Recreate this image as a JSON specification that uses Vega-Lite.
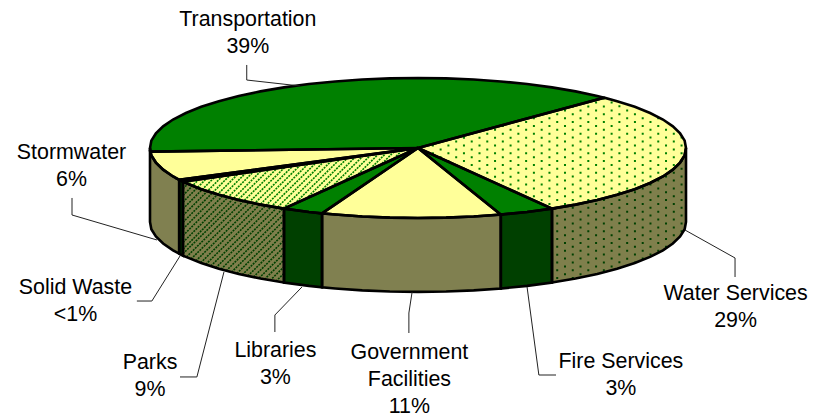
{
"$schema":"https://vega.github.io/schema/vega-lite/v6.json",
"width":822,"height":417,"padding":0,"autosize":"none","background":"white","view":{"stroke":null},
"datasets":{
"faces":[
{"part":"Water Services top","x":0,"y":0},{"part":"Water Services top","x":50,"y":-86.6},{"part":"Water Services top","x":58.8,"y":-80.9},{"part":"Water Services top","x":66.9,"y":-74.3},{"part":"Water Services top","x":74.3,"y":-66.9},{"part":"Water Services top","x":80.9,"y":-58.8},{"part":"Water Services top","x":86.6,"y":-50},{"part":"Water Services top","x":91.4,"y":-40.7},{"part":"Water Services top","x":95.1,"y":-30.9},{"part":"Water Services top","x":97.8,"y":-20.8},{"part":"Water Services top","x":99.5,"y":-10.5},{"part":"Water Services top","x":100,"y":0},{"part":"Water Services top","x":99.5,"y":10.5},{"part":"Water Services top","x":97.8,"y":20.8},{"part":"Water Services top","x":95.1,"y":30.9},{"part":"Water Services top","x":91.4,"y":40.7},{"part":"Water Services top","x":86.6,"y":50},{"part":"Water Services top","x":80.9,"y":58.8},{"part":"Water Services top","x":74.3,"y":66.9},{"part":"Water Services top","x":69.5,"y":71.9},{"part":"Water Services top","x":0,"y":0},
{"part":"Water Services side","x":50,"y":-86.6},{"part":"Water Services side","x":58.8,"y":-80.9},{"part":"Water Services side","x":66.9,"y":-74.3},{"part":"Water Services side","x":74.3,"y":-66.9},{"part":"Water Services side","x":80.9,"y":-58.8},{"part":"Water Services side","x":86.6,"y":-50},{"part":"Water Services side","x":91.4,"y":-40.7},{"part":"Water Services side","x":95.1,"y":-30.9},{"part":"Water Services side","x":97.8,"y":-20.8},{"part":"Water Services side","x":99.5,"y":-10.5},{"part":"Water Services side","x":100,"y":0},{"part":"Water Services side","x":100,"y":-105.6},{"part":"Water Services side","x":99.5,"y":-116.1},{"part":"Water Services side","x":97.8,"y":-126.4},{"part":"Water Services side","x":95.1,"y":-136.5},{"part":"Water Services side","x":91.4,"y":-146.3},{"part":"Water Services side","x":86.6,"y":-155.6},{"part":"Water Services side","x":80.9,"y":-164.4},{"part":"Water Services side","x":74.3,"y":-172.5},{"part":"Water Services side","x":66.9,"y":-179.9},{"part":"Water Services side","x":58.8,"y":-186.5},{"part":"Water Services side","x":50,"y":-192.2},{"part":"Water Services side","x":50,"y":-86.6},
{"part":"Parks top","x":0,"y":0},{"part":"Parks top","x":-87.7,"y":-48.1},{"part":"Parks top","x":-86.6,"y":-50},{"part":"Parks top","x":-80.9,"y":-58.8},{"part":"Parks top","x":-74.3,"y":-66.9},{"part":"Parks top","x":-66.9,"y":-74.3},{"part":"Parks top","x":-58.8,"y":-80.9},{"part":"Parks top","x":-50,"y":-86.6},{"part":"Parks top","x":0,"y":0},
{"part":"Parks side","x":-87.7,"y":-48.1},{"part":"Parks side","x":-86.6,"y":-50},{"part":"Parks side","x":-80.9,"y":-58.8},{"part":"Parks side","x":-74.3,"y":-66.9},{"part":"Parks side","x":-66.9,"y":-74.3},{"part":"Parks side","x":-58.8,"y":-80.9},{"part":"Parks side","x":-50,"y":-86.6},{"part":"Parks side","x":-50,"y":-192.2},{"part":"Parks side","x":-58.8,"y":-186.5},{"part":"Parks side","x":-66.9,"y":-179.9},{"part":"Parks side","x":-74.3,"y":-172.5},{"part":"Parks side","x":-80.9,"y":-164.4},{"part":"Parks side","x":-86.6,"y":-155.6},{"part":"Parks side","x":-87.7,"y":-153.7},{"part":"Parks side","x":-87.7,"y":-48.1},
{"part":"Transportation top","x":0,"y":0},{"part":"Transportation top","x":69.5,"y":71.9},{"part":"Transportation top","x":66.9,"y":74.3},{"part":"Transportation top","x":58.8,"y":80.9},{"part":"Transportation top","x":50,"y":86.6},{"part":"Transportation top","x":40.7,"y":91.4},{"part":"Transportation top","x":30.9,"y":95.1},{"part":"Transportation top","x":20.8,"y":97.8},{"part":"Transportation top","x":10.5,"y":99.5},{"part":"Transportation top","x":0,"y":100},{"part":"Transportation top","x":-10.5,"y":99.5},{"part":"Transportation top","x":-20.8,"y":97.8},{"part":"Transportation top","x":-30.9,"y":95.1},{"part":"Transportation top","x":-40.7,"y":91.4},{"part":"Transportation top","x":-50,"y":86.6},{"part":"Transportation top","x":-58.8,"y":80.9},{"part":"Transportation top","x":-66.9,"y":74.3},{"part":"Transportation top","x":-74.3,"y":66.9},{"part":"Transportation top","x":-80.9,"y":58.8},{"part":"Transportation top","x":-86.6,"y":50},{"part":"Transportation top","x":-91.4,"y":40.7},{"part":"Transportation top","x":-95.1,"y":30.9},{"part":"Transportation top","x":-97.8,"y":20.8},{"part":"Transportation top","x":-99.5,"y":10.5},{"part":"Transportation top","x":-100,"y":0},{"part":"Transportation top","x":-99.9,"y":-5.2},{"part":"Transportation top","x":0,"y":0},
{"part":"Fire Services top","x":0,"y":0},{"part":"Fire Services top","x":30.9,"y":-95.1},{"part":"Fire Services top","x":40.7,"y":-91.4},{"part":"Fire Services top","x":50,"y":-86.6},{"part":"Fire Services top","x":0,"y":0},
{"part":"Fire Services side","x":30.9,"y":-95.1},{"part":"Fire Services side","x":40.7,"y":-91.4},{"part":"Fire Services side","x":50,"y":-86.6},{"part":"Fire Services side","x":50,"y":-192.2},{"part":"Fire Services side","x":40.7,"y":-197},{"part":"Fire Services side","x":30.9,"y":-200.7},{"part":"Fire Services side","x":30.9,"y":-95.1},
{"part":"Government Facilities top","x":0,"y":0},{"part":"Government Facilities top","x":-35.8,"y":-93.4},{"part":"Government Facilities top","x":-30.9,"y":-95.1},{"part":"Government Facilities top","x":-20.8,"y":-97.8},{"part":"Government Facilities top","x":-10.5,"y":-99.5},{"part":"Government Facilities top","x":0,"y":-100},{"part":"Government Facilities top","x":10.5,"y":-99.5},{"part":"Government Facilities top","x":20.8,"y":-97.8},{"part":"Government Facilities top","x":30.9,"y":-95.1},{"part":"Government Facilities top","x":0,"y":0},
{"part":"Government Facilities side","x":-35.8,"y":-93.4},{"part":"Government Facilities side","x":-30.9,"y":-95.1},{"part":"Government Facilities side","x":-20.8,"y":-97.8},{"part":"Government Facilities side","x":-10.5,"y":-99.5},{"part":"Government Facilities side","x":0,"y":-100},{"part":"Government Facilities side","x":10.5,"y":-99.5},{"part":"Government Facilities side","x":20.8,"y":-97.8},{"part":"Government Facilities side","x":30.9,"y":-95.1},{"part":"Government Facilities side","x":30.9,"y":-200.7},{"part":"Government Facilities side","x":20.8,"y":-203.4},{"part":"Government Facilities side","x":10.5,"y":-205.1},{"part":"Government Facilities side","x":0,"y":-205.6},{"part":"Government Facilities side","x":-10.5,"y":-205.1},{"part":"Government Facilities side","x":-20.8,"y":-203.4},{"part":"Government Facilities side","x":-30.9,"y":-200.7},{"part":"Government Facilities side","x":-35.8,"y":-199},{"part":"Government Facilities side","x":-35.8,"y":-93.4},
{"part":"Libraries top","x":0,"y":0},{"part":"Libraries top","x":-50,"y":-86.6},{"part":"Libraries top","x":-40.7,"y":-91.4},{"part":"Libraries top","x":-35.8,"y":-93.4},{"part":"Libraries top","x":0,"y":0},
{"part":"Libraries side","x":-50,"y":-86.6},{"part":"Libraries side","x":-40.7,"y":-91.4},{"part":"Libraries side","x":-35.8,"y":-93.4},{"part":"Libraries side","x":-35.8,"y":-199},{"part":"Libraries side","x":-40.7,"y":-197},{"part":"Libraries side","x":-50,"y":-192.2},{"part":"Libraries side","x":-50,"y":-86.6},
{"part":"Solid Waste top","x":0,"y":0},{"part":"Solid Waste top","x":-89.1,"y":-45.4},{"part":"Solid Waste top","x":-87.7,"y":-48.1},{"part":"Solid Waste top","x":0,"y":0},
{"part":"Solid Waste side","x":-89.1,"y":-45.4},{"part":"Solid Waste side","x":-87.7,"y":-48.1},{"part":"Solid Waste side","x":-87.7,"y":-153.7},{"part":"Solid Waste side","x":-89.1,"y":-151},{"part":"Solid Waste side","x":-89.1,"y":-45.4},
{"part":"Stormwater top","x":0,"y":0},{"part":"Stormwater top","x":-99.9,"y":-5.2},{"part":"Stormwater top","x":-99.5,"y":-10.5},{"part":"Stormwater top","x":-97.8,"y":-20.8},{"part":"Stormwater top","x":-95.1,"y":-30.9},{"part":"Stormwater top","x":-91.4,"y":-40.7},{"part":"Stormwater top","x":-89.1,"y":-45.4},{"part":"Stormwater top","x":0,"y":0},
{"part":"Stormwater side","x":-100,"y":0},{"part":"Stormwater side","x":-99.5,"y":-10.5},{"part":"Stormwater side","x":-97.8,"y":-20.8},{"part":"Stormwater side","x":-95.1,"y":-30.9},{"part":"Stormwater side","x":-91.4,"y":-40.7},{"part":"Stormwater side","x":-89.1,"y":-45.4},{"part":"Stormwater side","x":-89.1,"y":-151},{"part":"Stormwater side","x":-91.4,"y":-146.3},{"part":"Stormwater side","x":-95.1,"y":-136.5},{"part":"Stormwater side","x":-97.8,"y":-126.4},{"part":"Stormwater side","x":-99.5,"y":-116.1},{"part":"Stormwater side","x":-100,"y":-105.6},{"part":"Stormwater side","x":-100,"y":0}
],
"hatch":[
{"k":-75,"x":-87.7,"y":-48.6},{"k":-75,"x":-86.5,"y":-44.1},{"k":-72.5,"x":-87.7,"y":-58.2},{"k":-72.5,"x":-83.6,"y":-42.7},{"k":-70,"x":-87.7,"y":-67.8},{"k":-70,"x":-80.8,"y":-41.2},{"k":-67.5,"x":-87.7,"y":-77.4},{"k":-67.5,"x":-77.9,"y":-39.7},{"k":-65,"x":-87.7,"y":-86.9},{"k":-65,"x":-75,"y":-38.2},{"k":-62.5,"x":-87.7,"y":-96.5},{"k":-62.5,"x":-72.1,"y":-36.8},{"k":-60,"x":-87.7,"y":-106.1},{"k":-60,"x":-69.2,"y":-35.3},{"k":-57.5,"x":-87.7,"y":-115.7},{"k":-57.5,"x":-66.3,"y":-33.8},{"k":-55,"x":-87.7,"y":-125.2},{"k":-55,"x":-63.4,"y":-32.4},{"k":-52.5,"x":-87.7,"y":-134.8},{"k":-52.5,"x":-60.6,"y":-30.9},{"k":-50,"x":-87.7,"y":-144.4},{"k":-50,"x":-57.7,"y":-29.4},{"k":-47.5,"x":-87.7,"y":-151},{"k":-47.5,"x":-54.8,"y":-27.9},
{"k":-45,"x":-86.4,"y":-155.6},{"k":-45,"x":-51.9,"y":-26.5},{"k":-42.5,"x":-84.7,"y":-158.6},{"k":-42.5,"x":-49,"y":-25},{"k":-40,"x":-82.9,"y":-161.3},{"k":-40,"x":-46.1,"y":-23.5},{"k":-37.5,"x":-81.1,"y":-164},{"k":-37.5,"x":-43.3,"y":-22.1},{"k":-35,"x":-79.2,"y":-166.3},{"k":-35,"x":-40.4,"y":-20.6},{"k":-32.5,"x":-77.3,"y":-168.6},{"k":-32.5,"x":-37.5,"y":-19.1},{"k":-30,"x":-75.5,"y":-171.3},{"k":-30,"x":-34.6,"y":-17.6},{"k":-27.5,"x":-73.5,"y":-173.2},{"k":-27.5,"x":-31.7,"y":-16.2},{"k":-25,"x":-71.6,"y":-175.5},{"k":-25,"x":-28.8,"y":-14.7},{"k":-22.5,"x":-69.6,"y":-177.4},{"k":-22.5,"x":-26,"y":-13.2},{"k":-20,"x":-67.6,"y":-179.3},{"k":-20,"x":-23.1,"y":-11.8},{"k":-17.5,"x":-65.6,"y":-181.2},{"k":-17.5,"x":-20.2,"y":-10.3},{"k":-15,"x":-63.5,"y":-182.8},{"k":-15,"x":-17.3,"y":-8.8},{"k":-12.5,"x":-61.4,"y":-184.3},{"k":-12.5,"x":-14.4,"y":-7.4},{"k":-10,"x":-59.3,"y":-185.8},{"k":-10,"x":-11.5,"y":-5.9},{"k":-7.5,"x":-57.3,"y":-187.7},{"k":-7.5,"x":-8.7,"y":-4.4},{"k":-5,"x":-55.2,"y":-189.3},{"k":-5,"x":-5.8,"y":-2.9},{"k":-2.5,"x":-53,"y":-190.4},{"k":-2.5,"x":-2.9,"y":-1.5}
],
"dots":[
{"k":5.55,"x":5.55,"y":83.1},{"k":5.55,"x":5.55,"y":-150},{"k":8.45,"x":8.45,"y":77.4},{"k":8.45,"x":8.45,"y":-150},{"k":11.35,"x":11.35,"y":83.1},{"k":11.35,"x":11.35,"y":-150},{"k":14.25,"x":14.25,"y":77.4},{"k":14.25,"x":14.25,"y":-150},{"k":17.15,"x":17.15,"y":83.1},{"k":17.15,"x":17.15,"y":-150},{"k":20.05,"x":20.05,"y":77.4},{"k":20.05,"x":20.05,"y":-150},{"k":22.95,"x":22.95,"y":83.1},{"k":22.95,"x":22.95,"y":-150},{"k":25.85,"x":25.85,"y":77.4},{"k":25.85,"x":25.85,"y":-150},{"k":28.75,"x":28.75,"y":83.1},{"k":28.75,"x":28.75,"y":-150},{"k":31.65,"x":31.65,"y":77.4},{"k":31.65,"x":31.65,"y":-150},{"k":34.55,"x":34.55,"y":83.1},{"k":34.55,"x":34.55,"y":-150},{"k":37.45,"x":37.45,"y":77.4},{"k":37.45,"x":37.45,"y":-150},{"k":40.35,"x":40.35,"y":83.1},{"k":40.35,"x":40.35,"y":-150},{"k":43.25,"x":43.25,"y":77.4},{"k":43.25,"x":43.25,"y":-150},{"k":46.15,"x":46.15,"y":83.1},{"k":46.15,"x":46.15,"y":-150},{"k":49.05,"x":49.05,"y":77.4},{"k":49.05,"x":49.05,"y":-150},{"k":51.95,"x":51.95,"y":83.1},{"k":51.95,"x":51.95,"y":-191},
{"k":54.85,"x":54.85,"y":77.4},{"k":54.85,"x":54.85,"y":-189.2},{"k":57.75,"x":57.75,"y":72},{"k":57.75,"x":57.75,"y":-187.2},{"k":60.65,"x":60.65,"y":77.4},{"k":60.65,"x":60.65,"y":-185.1},{"k":63.55,"x":63.55,"y":72},{"k":63.55,"x":63.55,"y":-182.8},{"k":66.45,"x":66.45,"y":66.3},{"k":66.45,"x":66.45,"y":-180.3},{"k":69.35,"x":69.35,"y":72},{"k":69.35,"x":69.35,"y":-177.6},{"k":72.25,"x":72.25,"y":66.3},{"k":72.25,"x":72.25,"y":-174.7},{"k":75.15,"x":75.15,"y":60.9},{"k":75.15,"x":75.15,"y":-171.6},{"k":78.05,"x":78.05,"y":55.1},{"k":78.05,"x":78.05,"y":-168.1},{"k":80.95,"x":80.95,"y":49.7},{"k":80.95,"x":80.95,"y":-164.3},{"k":83.85,"x":83.85,"y":44},{"k":83.85,"x":83.85,"y":-160.1},{"k":86.75,"x":86.75,"y":38.6},{"k":86.75,"x":86.75,"y":-155.3},{"k":89.65,"x":89.65,"y":44},{"k":89.65,"x":89.65,"y":-149.9},{"k":92.55,"x":92.55,"y":27.4},{"k":92.55,"x":92.55,"y":-143.5},{"k":95.45,"x":95.45,"y":21.7},{"k":95.45,"x":95.45,"y":-135.4},{"k":98.35,"x":98.35,"y":16.3},{"k":98.35,"x":98.35,"y":-123.7}
],
"leaders":[
{"slice":"Transportation","x":-63.9,"y":118.6},{"slice":"Transportation","x":-63.9,"y":97.1},{"slice":"Transportation","x":-44,"y":88.6},
{"slice":"Stormwater","x":-129.1,"y":-71.4},{"slice":"Stormwater","x":-129.1,"y":-95.7},{"slice":"Stormwater","x":-97.4,"y":-131.4},
{"slice":"Solid Waste","x":-104.9,"y":-218.6},{"slice":"Solid Waste","x":-99.3,"y":-218.6},{"slice":"Solid Waste","x":-88.8,"y":-154.3},
{"slice":"Parks","x":-88.8,"y":-327.1},{"slice":"Parks","x":-82.5,"y":-327.1},{"slice":"Parks","x":-72.4,"y":-177.1},
{"slice":"Libraries","x":-53.4,"y":-262.9},{"slice":"Libraries","x":-53.4,"y":-238.6},{"slice":"Libraries","x":-43.3,"y":-198.6},
{"slice":"Government Facilities","x":-3.4,"y":-264.3},{"slice":"Government Facilities","x":-3.4,"y":-235.7},{"slice":"Government Facilities","x":-2.2,"y":-205.7},
{"slice":"Fire Services","x":51.5,"y":-324.3},{"slice":"Fire Services","x":45.1,"y":-324.3},{"slice":"Fire Services","x":40.7,"y":-198.6},
{"slice":"Water Services","x":118.3,"y":-184.3},{"slice":"Water Services","x":118.3,"y":-157.1},{"slice":"Water Services","x":99.6,"y":-117.1}
],
"labels":[
{"text":"Transportation","x":-63.5,"y":174.3},{"text":"39%","x":-63.5,"y":135.3},
{"text":"Stormwater","x":-129.3,"y":-16.1},{"text":"6%","x":-129.3,"y":-54.1},
{"text":"Solid Waste","x":-127.8,"y":-208.6},{"text":"<1%","x":-127.8,"y":-246.7},
{"text":"Parks","x":-100,"y":-315.7},{"text":"9%","x":-100,"y":-353.9},
{"text":"Libraries","x":-53.2,"y":-298.1},{"text":"3%","x":-53.2,"y":-337.1},
{"text":"Government","x":-3.2,"y":-301.9},{"text":"Facilities","x":-3.2,"y":-340},{"text":"11%","x":-3.2,"y":-378.1},
{"text":"Fire Services","x":75.7,"y":-314.3},{"text":"3%","x":75.7,"y":-352.9},
{"text":"Water Services","x":118.5,"y":-217.1},{"text":"29%","x":118.5,"y":-256.1}
]
},
"encoding":{
"x":{"field":"x","type":"quantitative","axis":null,"scale":{"domain":[-155.97,150.75],"nice":false,"zero":false}},
"y":{"field":"y","type":"quantitative","axis":null,"scale":{"domain":[-384.29,211.43],"nice":false,"zero":false}}
},
"layer":[
{"data":{"name":"faces"},"transform":[{"filter":{"field":"part","oneOf":["Water Services top","Water Services side","Parks top","Parks side"]}}],
"mark":{"type":"line","fill":"#FFFF99","strokeWidth":0},
"encoding":{"detail":{"field":"part"},"order":{"value":null}}},
{"data":{"name":"hatch"},"mark":{"type":"line","stroke":"#008000","strokeWidth":1.6,"strokeDash":[2,1]},
"encoding":{"detail":{"field":"k"},"order":{"value":null}}},
{"data":{"name":"dots"},"mark":{"type":"line","stroke":"#008000","strokeWidth":2,"strokeDash":[2,5.8]},
"encoding":{"detail":{"field":"k"},"order":{"value":null}}},
{"data":{"name":"faces"},"transform":[{"filter":{"field":"part","oneOf":["Water Services side","Parks side"]}}],
"mark":{"type":"line","fill":"black","fillOpacity":0.5,"strokeWidth":0},
"encoding":{"detail":{"field":"part"},"order":{"value":null}}},
{"data":{"name":"faces"},"transform":[{"filter":{"field":"part","oneOf":["Transportation top","Fire Services top","Libraries top","Solid Waste top"]}}],
"mark":{"type":"line","fill":"#008000","strokeWidth":0},
"encoding":{"detail":{"field":"part"},"order":{"value":null}}},
{"data":{"name":"faces"},"transform":[{"filter":{"field":"part","oneOf":["Government Facilities top","Stormwater top"]}}],
"mark":{"type":"line","fill":"#FFFF99","strokeWidth":0},
"encoding":{"detail":{"field":"part"},"order":{"value":null}}},
{"data":{"name":"faces"},"transform":[{"filter":{"field":"part","oneOf":["Fire Services side","Libraries side","Solid Waste side"]}}],
"mark":{"type":"line","fill":"#004000","strokeWidth":0},
"encoding":{"detail":{"field":"part"},"order":{"value":null}}},
{"data":{"name":"faces"},"transform":[{"filter":{"field":"part","oneOf":["Government Facilities side","Stormwater side"]}}],
"mark":{"type":"line","fill":"#808050","strokeWidth":0},
"encoding":{"detail":{"field":"part"},"order":{"value":null}}},
{"data":{"name":"faces"},"mark":{"type":"line","stroke":"black","strokeWidth":2.6,"strokeJoin":"miter"},
"encoding":{"detail":{"field":"part"},"order":{"value":null}}},
{"data":{"name":"leaders"},"mark":{"type":"line","stroke":"#222222","strokeWidth":1},
"encoding":{"detail":{"field":"slice"},"order":{"value":null}}},
{"data":{"name":"labels"},"mark":{"type":"text","font":"Liberation Sans","fontSize":21.4,"align":"center","baseline":"alphabetic","fill":"black"},
"encoding":{"text":{"field":"text","type":"nominal"}}}
]
}
